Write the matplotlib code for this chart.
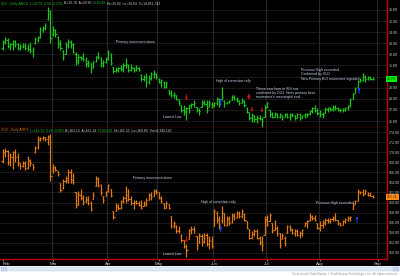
import numpy as np
import pandas as pd
import matplotlib
matplotlib.use("Agg")
import matplotlib.pyplot as plt
import matplotlib.transforms as mtransforms
from matplotlib.patches import Rectangle

W, H = 400, 276
FONT = ["Liberation Sans", "DejaVu Sans"]

# trading calendar (Feb 1 - Aug 30 2012), plus a few days of empty axis
holidays = pd.to_datetime(["2012-02-20", "2012-04-06", "2012-05-28", "2012-07-04", "2012-09-03"])
axis_days = pd.bdate_range("2012-02-01", "2012-09-07")
axis_days = axis_days[~axis_days.isin(holidays)]
month_names = ["Feb", "Mar", "Apr", "May", "Jun", "Jul", "Aug", "Sep"]

# SLV daily bars
slv_open = [32.6, 33.1, 33.3, 32.8, 32.9, 33.2, 32.9, 32.6, 32.7, 32.8, 32.6, 32.5, 32.3, 33.0, 33.3, 33.6, 34.2, 34.4, 35.2, 35.6,
            33.8, 34.2, 33.6, 33.0, 32.3, 32.0, 32.9, 33.1, 32.9, 32.0, 31.5, 31.8, 31.7, 31.5, 31.2, 31.2, 30.9, 31.4, 31.9, 31.7, 31.2, 31.3,
            31.6, 32.0, 30.9, 30.5, 30.6, 30.8, 30.7, 31.0, 31.0, 30.7, 30.8, 30.6, 30.8, 30.1, 29.8, 30.0, 29.5, 29.9, 30.2, 30.2,
            29.8, 29.5, 29.5, 29.1, 28.8, 28.5, 28.3, 28.3, 27.9, 27.4, 27.0, 26.9, 27.2, 27.4, 27.5, 27.3, 27.0, 27.3, 27.6, 27.5, 27.3, 27.5,
            27.4, 27.6, 28.0, 28.0, 27.8, 27.6, 27.7, 27.9, 28.2, 28.0, 27.8, 27.6, 27.8, 27.2, 26.8, 26.4, 26.5, 26.2, 26.3, 26.2, 26.4,
            27.3, 27.0, 26.6, 26.4, 26.6, 26.4, 26.5, 26.4, 26.6, 26.4, 26.5, 26.5, 26.3, 26.6, 26.3, 26.5, 26.6, 26.7, 26.9, 27.2, 27.0,
            26.7, 26.6, 26.7, 27.1, 27.2, 27.1, 27.3, 27.2, 27.0, 27.0, 27.0, 27.2, 27.4, 28.0, 28.5, 29.1, 29.6, 29.7, 30.0, 29.8, 30.0, 29.8]
slv_high = [33.3, 33.6, 33.5, 33.0, 33.3, 33.3, 33.0, 32.9, 33.0, 33.0, 32.9, 33.1, 32.7, 33.6, 33.7, 34.5, 34.6, 34.8, 36.3, 36.0,
            34.6, 34.3, 33.7, 33.3, 32.4, 33.1, 33.4, 33.3, 33.0, 32.2, 32.0, 31.9, 32.1, 31.8, 31.5, 31.2, 31.4, 31.9, 32.2, 31.8, 31.5, 31.8,
            32.4, 32.1, 30.9, 30.9, 30.9, 31.0, 31.2, 31.7, 31.1, 31.1, 30.9, 31.0, 30.9, 30.2, 30.1, 30.3, 30.1, 30.4, 30.6, 30.3,
            29.9, 29.8, 29.6, 29.6, 28.8, 28.8, 28.6, 28.35, 27.95, 27.45, 27.45, 27.3, 27.45, 27.6, 27.9, 27.3, 27.15, 27.9, 27.9, 27.9, 27.9, 27.75,
            27.75, 28.2, 28.05, 29.1, 27.9, 27.75, 27.9, 28.35, 28.35, 28.2, 27.9, 28.05, 27.9, 27.3, 26.85, 26.7, 26.55, 26.55, 26.55, 26.4, 27.45,
            27.75, 27.0, 26.85, 26.85, 26.7, 26.7, 26.55, 26.7, 26.7, 26.7, 26.7, 26.55, 26.7, 26.7, 26.55, 26.7, 26.7, 27.0, 27.3, 27.45, 27.15,
            27.0, 26.8, 27.3, 27.3, 27.3, 27.45, 27.45, 27.3, 27.15, 27.15, 27.3, 27.45, 28.05, 28.5, 29.1, 29.7, 29.85, 30.3, 30.15, 30.05, 30.05, 29.95]
slv_low = [32.4, 32.9, 32.6, 32.4, 32.4, 32.7, 32.4, 32.4, 32.6, 32.4, 32.3, 32.1, 31.8, 32.9, 33.1, 33.5, 34.0, 34.2, 35.1, 33.0,
           33.7, 33.6, 32.6, 32.4, 31.5, 32.0, 32.6, 32.6, 32.1, 31.0, 31.1, 31.5, 31.4, 30.9, 30.9, 30.3, 30.8, 31.3, 31.6, 30.9, 30.9, 31.2,
           31.5, 31.0, 30.3, 30.4, 30.4, 30.5, 30.4, 30.8, 30.4, 30.5, 30.4, 30.5, 30.5, 29.6, 29.6, 29.1, 29.3, 29.7, 29.9, 29.8,
           29.4, 29.1, 29.0, 29.0, 28.35, 28.2, 28.05, 27.9, 27.45, 26.85, 26.55, 26.1, 26.7, 27.15, 27.3, 26.85, 26.5, 27.3, 27.4, 26.7, 27.3, 27.2,
           27.3, 27.45, 27.3, 27.9, 27.3, 27.55, 27.6, 27.9, 27.9, 27.75, 27.45, 27.6, 27.3, 26.7, 26.1, 25.95, 25.95, 25.8, 26.1, 25.5, 26.4,
           27.2, 26.4, 26.25, 26.4, 26.25, 26.25, 26.1, 26.4, 26.25, 26.1, 26.4, 26.1, 26.25, 26.1, 26.25, 26.25, 26.4, 26.55, 26.7, 26.85, 26.55,
           26.4, 26.3, 26.7, 26.8, 26.9, 26.9, 27.0, 26.9, 26.85, 26.85, 26.9, 27.0, 27.3, 28.0, 28.5, 29.1, 29.55, 29.6, 29.55, 29.7, 29.7, 29.65]
slv_close = [33.1, 33.4, 32.8, 32.9, 33.2, 32.9, 32.6, 32.8, 32.8, 32.6, 32.5, 32.3, 32.5, 33.4, 33.5, 34.3, 34.4, 34.6, 35.9, 33.5,
             34.2, 33.8, 32.9, 32.6, 31.8, 32.8, 33.2, 32.9, 32.2, 31.3, 31.8, 31.7, 31.6, 31.1, 31.3, 30.7, 31.3, 31.8, 31.8, 31.2, 31.3, 31.6,
             32.2, 31.2, 30.5, 30.7, 30.8, 30.7, 31.0, 31.1, 30.6, 30.9, 30.6, 30.8, 30.6, 29.8, 30.0, 29.5, 29.9, 30.2, 30.3, 30.0,
             29.5, 29.7, 29.1, 29.4, 28.5, 28.3, 28.4, 28.0, 27.6, 27.0, 26.8, 27.2, 27.4, 27.5, 27.6, 27.0, 26.9, 27.7, 27.5, 27.0, 27.7, 27.4,
             27.6, 28.0, 27.5, 28.2, 27.6, 27.7, 27.8, 28.2, 28.0, 27.9, 27.6, 27.9, 27.4, 26.8, 26.3, 26.5, 26.2, 26.4, 26.2, 26.0, 27.3,
             27.6, 26.6, 26.4, 26.7, 26.4, 26.6, 26.3, 26.6, 26.4, 26.6, 26.5, 26.3, 26.6, 26.3, 26.5, 26.6, 26.65, 26.9, 27.2, 27.0, 26.7,
             26.6, 26.5, 27.1, 27.2, 27.0, 27.3, 27.2, 27.0, 27.0, 27.1, 27.2, 27.3, 27.9, 28.4, 29.0, 29.6, 29.7, 30.1, 29.8, 30.0, 29.8, 29.79]

# GLD daily bars
gld_open = [168.2, 170.0, 170.3, 168.0, 169.0, 170.0, 169.0, 167.9, 167.3, 167.8, 166.8, 168.2, 167.6, 170.0, 171.0, 172.5, 172.8, 173.0, 172.6, 173.2,
            166.5, 166.8, 166.3, 163.8, 162.8, 164.3, 164.5, 166.0, 164.5, 162.0, 159.6, 161.5, 161.0, 160.3, 160.6, 160.0, 160.7, 163.3, 164.6, 163.4, 161.3, 161.3,
            162.2, 162.6, 158.3, 158.3, 159.2, 159.0, 160.4, 161.0, 161.5, 160.8, 159.9, 160.2, 160.0, 159.6, 159.3, 159.6, 160.6, 161.5, 161.3, 162.2,
            162.0, 161.0, 160.0, 159.0, 159.7, 157.3, 155.4, 155.6, 154.5, 153.6, 152.6, 151.3, 152.7, 154.5, 154.8, 153.4, 152.0, 153.4, 152.2, 153.6, 151.8, 152.4,
            155.3, 158.0, 156.6, 156.5, 157.9, 155.6, 156.7, 156.2, 157.4, 157.2, 158.0, 157.3, 157.8, 156.3, 154.7, 153.0, 153.8, 154.3, 153.0, 152.2, 153.5,
            156.5, 156.3, 156.0, 154.6, 155.0, 153.9, 152.8, 153.0, 154.0, 155.2, 154.6, 154.0, 154.4, 153.6, 154.0, 155.3, 156.0, 156.5, 157.2, 157.0, 156.0,
            155.0, 155.6, 156.0, 156.6, 156.4, 156.8, 157.0, 156.6, 155.9, 155.6, 156.3, 156.6, 157.0, 158.7, 159.8, 160.4, 162.0, 162.1, 161.8, 161.8, 161.6, 161.3]
gld_high = [170.6, 170.9, 170.5, 169.9, 170.3, 170.6, 169.9, 167.9, 168.3, 168.3, 169.2, 168.6, 167.7, 171.2, 173.2, 173.0, 173.2, 173.1, 173.4, 173.6,
            167.6, 167.2, 166.3, 163.9, 164.6, 165.3, 166.6, 166.6, 165.9, 162.0, 162.3, 162.6, 161.6, 161.3, 161.3, 160.3, 162.0, 165.3, 165.0, 163.6, 161.3, 162.3,
            163.6, 162.6, 158.3, 160.0, 159.7, 160.6, 161.3, 163.3, 162.6, 161.3, 160.6, 160.6, 160.3, 160.6, 160.3, 160.9, 161.9, 162.0, 162.6, 162.6,
            162.0, 161.3, 160.0, 160.3, 159.7, 157.3, 156.3, 155.6, 155.3, 153.8, 152.6, 151.8, 154.7, 155.3, 155.3, 153.4, 154.0, 153.7, 153.9, 154.0, 153.4, 153.4,
            158.7, 158.3, 157.3, 159.3, 157.9, 157.3, 157.3, 158.0, 158.0, 158.3, 158.3, 158.7, 158.0, 156.3, 154.7, 154.3, 154.7, 154.7, 153.4, 153.4, 157.3,
            157.6, 157.9, 156.0, 156.6, 155.3, 154.0, 154.0, 153.4, 155.6, 155.6, 155.0, 154.7, 154.7, 154.3, 154.7, 156.2, 156.6, 157.9, 157.6, 157.6, 156.0,
            156.3, 156.6, 157.0, 157.0, 157.0, 157.3, 158.0, 156.6, 156.0, 156.6, 157.0, 157.3, 157.3, 160.0, 160.6, 162.6, 162.3, 162.6, 162.6, 162.0, 162.0, 161.6]
gld_low = [167.9, 169.0, 167.4, 167.3, 166.6, 168.0, 167.3, 166.6, 167.1, 166.4, 166.6, 167.3, 166.4, 169.9, 170.6, 172.2, 172.5, 172.2, 171.5, 164.3,
           165.9, 166.2, 165.3, 162.0, 162.6, 163.9, 163.9, 163.9, 163.6, 159.0, 159.6, 160.6, 159.6, 160.0, 159.6, 158.3, 160.7, 163.3, 163.0, 161.6, 160.0, 161.3,
           162.0, 161.2, 156.7, 158.3, 158.6, 158.7, 160.0, 160.0, 160.3, 159.6, 158.7, 159.7, 159.3, 158.7, 159.3, 159.3, 160.6, 160.6, 161.3, 161.7,
           160.7, 160.0, 158.7, 159.0, 158.7, 155.0, 155.0, 154.0, 154.0, 152.2, 151.0, 149.1, 152.7, 153.7, 154.0, 150.5, 152.0, 151.4, 152.0, 151.4, 150.7, 151.0,
           155.3, 156.0, 154.7, 156.0, 155.3, 155.3, 155.6, 156.0, 156.6, 157.0, 157.0, 157.0, 156.3, 154.7, 152.7, 152.7, 153.4, 152.7, 151.6, 150.4, 153.5,
           155.3, 156.3, 154.0, 154.6, 153.4, 151.0, 152.7, 151.4, 154.0, 154.4, 153.7, 153.4, 153.4, 153.0, 153.4, 155.3, 155.0, 156.3, 156.6, 156.3, 154.7,
           154.4, 155.0, 155.6, 156.0, 156.0, 156.3, 156.3, 155.6, 155.3, 155.6, 156.0, 156.3, 156.3, 158.7, 159.7, 160.3, 161.7, 161.3, 161.7, 161.3, 161.3, 161.0]
gld_close = [170.0, 170.3, 168.0, 169.5, 170.0, 169.0, 168.0, 167.2, 167.8, 166.8, 168.5, 167.8, 167.0, 170.8, 172.8, 172.8, 173.0, 172.6, 173.0, 165.2,
             167.0, 166.5, 165.6, 162.4, 164.2, 164.8, 166.0, 164.5, 164.0, 159.5, 161.8, 161.0, 160.2, 160.8, 160.0, 158.8, 161.6, 164.8, 163.4, 162.0, 160.5, 162.0,
             163.4, 161.5, 157.1, 159.6, 159.0, 160.4, 161.0, 160.6, 160.8, 159.9, 160.2, 160.0, 159.6, 159.0, 160.0, 160.6, 161.5, 161.2, 162.3, 162.0,
             161.0, 160.4, 159.0, 160.0, 158.9, 155.4, 156.0, 154.4, 154.3, 152.6, 151.3, 150.6, 154.5, 154.8, 154.6, 151.6, 153.6, 152.2, 153.0, 151.8, 152.5, 151.4,
             158.3, 156.8, 155.8, 158.0, 155.6, 156.9, 156.0, 157.6, 157.0, 158.0, 157.3, 158.4, 156.6, 155.0, 153.0, 153.8, 154.3, 153.0, 152.0, 151.6, 156.8,
             155.6, 157.6, 154.3, 155.0, 153.9, 151.6, 153.6, 152.0, 155.3, 154.8, 154.0, 154.4, 153.6, 154.0, 154.5, 156.0, 156.3, 157.3, 157.0, 156.6, 155.0,
             155.6, 156.2, 156.6, 156.4, 156.8, 157.0, 156.6, 155.9, 155.6, 156.3, 156.8, 157.0, 157.1, 159.6, 160.4, 162.2, 162.1, 161.8, 162.3, 161.6, 161.4, 161.11]

slv_ticks = [26, 27, 28, 29, 30, 31, 32, 33, 34, 35, 36]
gld_ticks = [150, 152, 154, 156, 158, 160, 162, 164, 166, 168, 170, 172, 174]

GREEN = "#1ec41e"
ORANGE = "#e07a12"
NOTE = "#c8d4f0"
RED = "#d01010"
BLUE = "#2040ff"

fig = plt.figure(figsize=(W / 100, H / 100), dpi=100, facecolor="white")


def px_rect(x0, y0, x1, y1):
    # figure pixel box (top-left origin) -> add_axes rect
    return [x0 / W, 1 - y1 / H, (x1 - x0) / W, (y1 - y0) / H]


fig.patches.append(Rectangle((0, 1 - 266 / H), 1, 266 / H, transform=fig.transFigure,
                             fc="black", ec="none", zorder=-10))

ax1 = fig.add_axes(px_rect(0, 0, 387, 128))
ax2 = fig.add_axes(px_rect(0, 128, 387, 259))

day_idx = np.arange(len(axis_days))
month_pos = [i for i in day_idx if i == 0 or axis_days[i].month != axis_days[i - 1].month]


def setup(ax, ticks, ylim, hide=None):
    ax.set_facecolor("black")
    ax.set_xlim(-1, 152.6)
    ax.set_ylim(*ylim)
    for p in month_pos[1:]:
        ax.axvline(p - 0.5, color="#3a3a3a", lw=0.5, zorder=1)
    for t in ticks:
        ax.axhline(t, color="#242424", lw=0.5, zorder=1)
    ax.yaxis.tick_right()
    ax.set_yticks(ticks)
    # the label under the last-price box is covered in the original
    ax.set_yticklabels(["" if t == hide else f"{t:.2f}" for t in ticks], family=FONT)
    ax.tick_params(axis="y", length=0, pad=1.5, labelsize=2.6, labelcolor="#c8c8c8")
    for s in ["top", "left"]:
        ax.spines[s].set_visible(False)
    for s in ["right", "bottom"]:
        ax.spines[s].set_color("#c00000")
        ax.spines[s].set_linewidth(1.0)


def draw_bars(ax, o, h, l, c, color):
    x = np.arange(len(o))
    ax.vlines(x, l, h, color=color, lw=0.9, zorder=3)
    ax.hlines(o, x - 0.45, x, color=color, lw=0.8, zorder=3)
    ax.hlines(c, x, x + 0.45, color=color, lw=0.8, zorder=3)


def arrow(ax, x, y_from, y_to, color, lw=0.8):
    ax.annotate("", xy=(x, y_to), xytext=(x, y_from), zorder=4,
                arrowprops=dict(arrowstyle="-|>", color=color, lw=lw,
                                mutation_scale=2.5, shrinkA=0, shrinkB=0))


def note(ax, x, y, s, va="center"):
    ax.text(x, y, s, color=NOTE, fontsize=2.5, family=FONT, ha="left", va=va,
            linespacing=1.15, zorder=5)


setup(ax1, slv_ticks, (25.37, 36.9), hide=30)
setup(ax2, gld_ticks, (148.8, 174.8))
ax1.set_xticks([])
ax2.set_xticks([month_pos[k] for k in range(len(month_names))])
ax2.set_xticklabels(month_names, family=FONT)
ax2.tick_params(axis="x", length=1.5, color="#909090", pad=0.6, labelsize=3.2, labelcolor="#d0d0d0")
ax2.get_xticklabels()[0].set_ha("left")

draw_bars(ax1, slv_open, slv_high, slv_low, slv_close, GREEN)
draw_bars(ax2, gld_open, gld_high, gld_low, gld_close, ORANGE)

# last price boxes
for ax, close, fc, tc in [(ax1, slv_close[-1], "#00ee00", "#004000"),
                          (ax2, gld_close[-1], "#ff8c1a", "#402000")]:
    tr = mtransforms.blended_transform_factory(ax.transAxes, ax.transData)
    ax.text(1.0, close, f"{close:.2f}", transform=tr, ha="left", va="center",
            fontsize=2.6, family=FONT, color=tc, clip_on=False, zorder=6,
            bbox=dict(boxstyle="square,pad=0.3", fc=fc, ec="none"))

# SLV notes
note(ax1, 45, 33.1, "Primary movement down")
note(ax1, 63.7, 26.35, "Lowest Low")
arrow(ax1, 73, slv_high[73] + 1.05, slv_high[73] + 0.55, RED)
note(ax1, 84.7, 29.6, "High of correction rally")
arrow(ax1, 86.6, slv_low[87] - 0.5, slv_low[87] + 0.15, BLUE)
arrow(ax1, 97.8, slv_high[98] + 1.5, slv_high[98] + 1.05, RED, lw=1.3)
arrow(ax1, 99, slv_high[99] + 0.55, slv_high[99] + 0.1, RED)
arrow(ax1, 103, slv_high[103] + 0.8, slv_high[103] + 0.35, RED)
note(ax1, 100.6, 29.1, "These new lows in SLV not\nconfirmed by GLD. Hints primary bear\nmovement's meaningful end.", va="top")
note(ax1, 118.4, 30.8, "Previous High exceeded\nConfirmed by GLD\nNew Primary Bull movement signaled", va="top")
arrow(ax1, 141.5, slv_low[141] - 0.6, slv_low[141] - 0.05, BLUE)

# GLD notes
note(ax2, 51.8, 164.9, "Primary movement down")
note(ax2, 63.7, 149.8, "Lowest Low")
arrow(ax2, 73, gld_high[73] + 1.4, gld_high[73] + 0.2, RED)
note(ax2, 78.8, 160.1, "High of correction rally")
arrow(ax2, 86.6, gld_low[87] - 1.8, gld_low[87] - 0.5, BLUE)
note(ax2, 124.4, 159.9, "Previous High exceeded")
arrow(ax2, 140.7, gld_low[141] - 4.2, gld_low[141] - 3.0, BLUE)

# header lines, pieced together like the platform does
renderer = fig.canvas.get_renderer()


def header(y_px, parts):
    x = 1.0
    for s, col in parts:
        t = fig.text(x / W, 1 - y_px / H, s, color=col, fontsize=2.4, family=FONT,
                     ha="left", va="center", zorder=6)
        x = t.get_window_extent(renderer).x1 + 1.2


header(3.5, [("SLV - Daily ARCX  L=29.79 -0.04 -0.13%", GREEN),
             ("B=29.78  A=29.80", "#d0d0d0"),
             ("O=29.89", GREEN),
             ("Hi=29.92  Lo=29.63  V=14,851,742", "#d0d0d0")])
header(130.5, [("GLD - Daily ARCX", ORANGE),
               ("L=161.11  0.00  0.00%", GREEN),
               ("B=161.13  A=161.14", "#d0d0d0"),
               ("O=161.28", GREEN),
               ("Hi=161.33  Lo=160.80  Vol=8,340,145", "#d0d0d0")])

# scroll bar and footer
fig.patches.append(Rectangle((1 / W, 1 - 271 / H), 398 / W, 4.5 / H, transform=fig.transFigure,
                             fc="#dfe8f5", ec="#b8c8e0", lw=0.3, zorder=1))
for x0 in (1, 393):
    fig.patches.append(Rectangle((x0 / W, 1 - 271 / H), 6 / W, 4.5 / H, transform=fig.transFigure,
                                 fc="#c4d4ee", ec="#a8bcdc", lw=0.3, zorder=2))
fig.text(398 / W, 1 - 273.8 / H,
         "Created with TradeStation. \u00a9 TradeStation Technologies, Inc. All rights reserved.",
         color="#909090", fontsize=2.1, family=FONT, ha="right", va="center")

fig.savefig("out.png", dpi=100, facecolor="white")
